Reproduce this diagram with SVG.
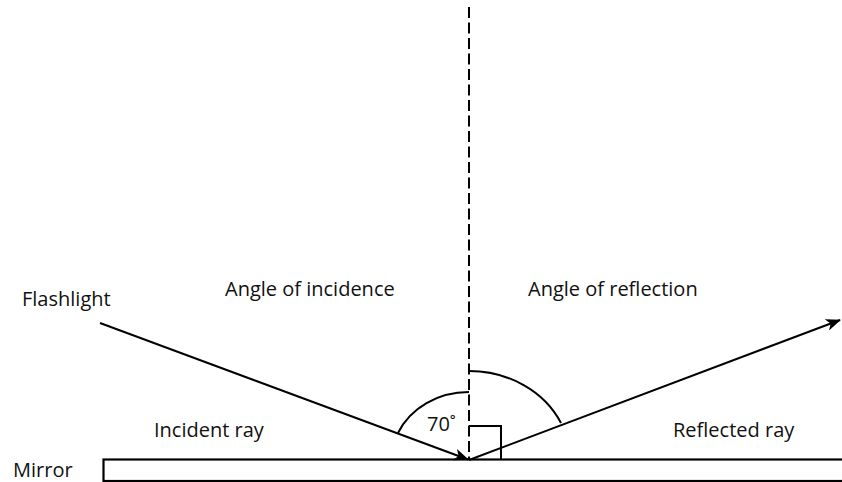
<svg xmlns="http://www.w3.org/2000/svg" width="842" height="482" viewBox="0 0 842 482">
<style>
  .lbl { font-family: "Open Sans", "Noto Sans", sans-serif; font-size: 20px; fill: #111; }
  .ln { stroke: #000; stroke-width: 2; fill: none; }
</style>
<defs>
  <marker id="arr" markerWidth="16" markerHeight="12" refX="14" refY="6" orient="auto" markerUnits="userSpaceOnUse">
    <path d="M0,0 L15,6 L0,12 L4,6 Z" fill="#000"/>
  </marker>
</defs>
<rect width="842" height="482" fill="#fff"/>
<g id="mirror">
  <rect x="103.5" y="459.5" width="760" height="21.5" fill="#fff" stroke="#000" stroke-width="2.2"/>
  <text class="lbl" x="13" y="477">Mirror</text>
</g>
<g id="normal">
  <line class="ln" x1="469" y1="7" x2="469" y2="459" stroke-dasharray="11 4.5"/>
</g>
<g id="connectors">
  <line class="ln" x1="100" y1="323" x2="468" y2="459.5" marker-end="url(#arr)"/>
  <line class="ln" x1="469" y1="460" x2="840" y2="320" marker-end="url(#arr)"/>
</g>
<g id="angles">
  <path class="ln" d="M398,433 A77,68 0 0 1 469,392"/>
  <path class="ln" d="M469,371 A101,89 0 0 1 561,423"/>
  <path class="ln" d="M469,426 L501,426 L501,460"/>
  <text class="lbl" x="427" y="431">70˚</text>
</g>
<g id="labels">
  <text class="lbl" x="22" y="306">Flashlight</text>
  <text class="lbl" x="225" y="296">Angle of incidence</text>
  <text class="lbl" x="528" y="296">Angle of reflection</text>
  <text class="lbl" x="154" y="437">Incident ray</text>
  <text class="lbl" x="673" y="437">Reflected ray</text>
</g>
</svg>
